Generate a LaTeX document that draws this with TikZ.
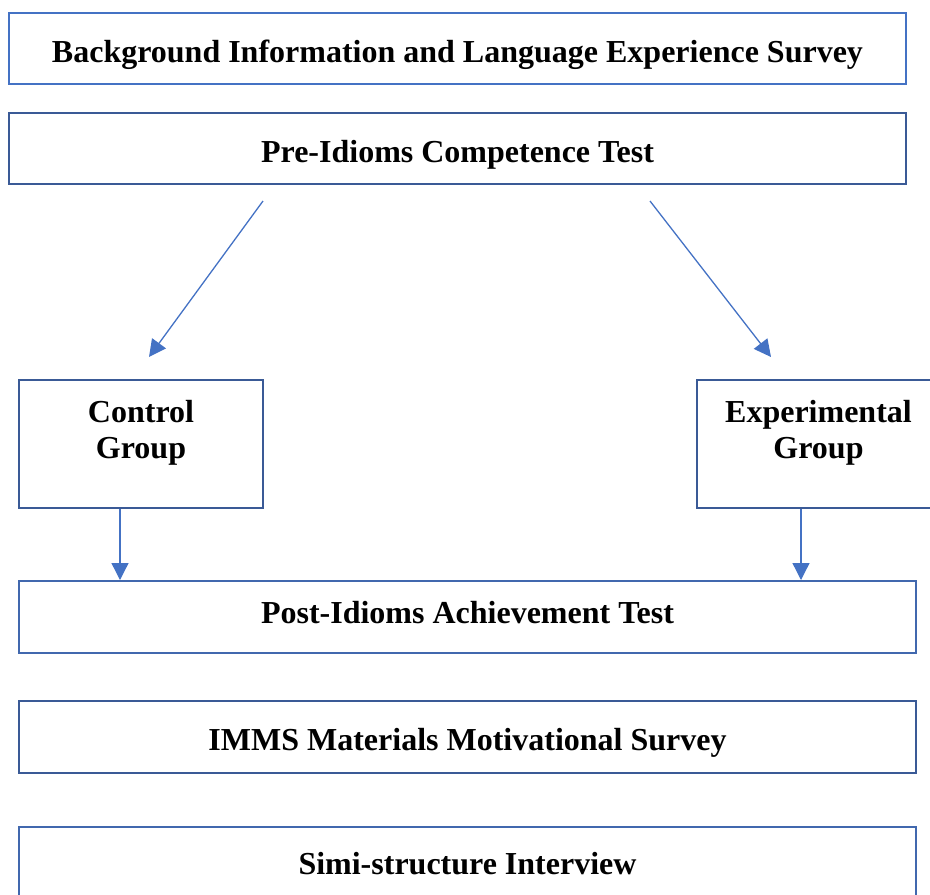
\documentclass[tikz,border=0pt]{standalone}
\usepackage{fontspec}
\setmainfont{Liberation Serif}
\usetikzlibrary{arrows.meta}
\definecolor{lightb}{HTML}{4472C4}
\definecolor{darkb}{HTML}{3A5A96}
\definecolor{midb}{HTML}{4168AE}
\definecolor{arrowb}{HTML}{4472C4}
\tikzset{
  box/.style={draw=darkb, line width=2.4pt, fill=white},
  lbl/.style={font=\fontsize{32}{38}\selectfont\bfseries, anchor=base, inner sep=0pt},
  arr/.style={draw=arrowb, line width=1.3pt, -{Triangle[length=17pt,width=17pt]}}
}
\begin{document}
\begin{tikzpicture}[x=1pt,y=-1pt]
\useasboundingbox (0,0) rectangle (930,895);
\clip (0,0) rectangle (930,895);
% boxes
\draw[box, draw=lightb] (9,13) rectangle (906,84);
\node[lbl] (bg) at (457.5,62) {Background Information and Language Experience Survey};
\draw[box] (9,113) rectangle (906,184);
\node[lbl] (pre) at (457.5,162) {Pre-Idioms Competence Test};
\draw[box] (19,380) rectangle (263,508);
\node[lbl] (ctl) at (141,422) {Control};
\node[lbl] (ctl2) at (141,458) {Group};
\draw[box] (697,380) rectangle (940,508);
\node[lbl] (exp) at (818.5,422) {Experimental};
\node[lbl] (exp2) at (818.5,458) {Group};
\draw[box, draw=midb] (19,581) rectangle (916,653);
\node[lbl] (post) at (467.5,623) {Post-Idioms Achievement Test};
\draw[box] (19,701) rectangle (916,773);
\node[lbl] (imms) at (467.5,750) {IMMS Materials Motivational Survey};
\draw[box, draw=midb] (19,827) rectangle (916,900);
\node[lbl] (simi) at (467.5,874) {Simi-structure Interview};
% arrows
\coordinate (a1s) at (263,201);
\coordinate (a1e) at (149,357);
\coordinate (a2s) at (650,201);
\coordinate (a2e) at (771,357);
\coordinate (c1s) at (120,509);
\coordinate (c1e) at (120,580);
\coordinate (c2s) at (801,509);
\coordinate (c2e) at (801,580);
\draw[arr] (a1s) -- (a1e);
\draw[arr] (a2s) -- (a2e);
\draw[arr] (c1s) -- (c1e);
\draw[arr] (c2s) -- (c2e);
\end{tikzpicture}
\end{document}
